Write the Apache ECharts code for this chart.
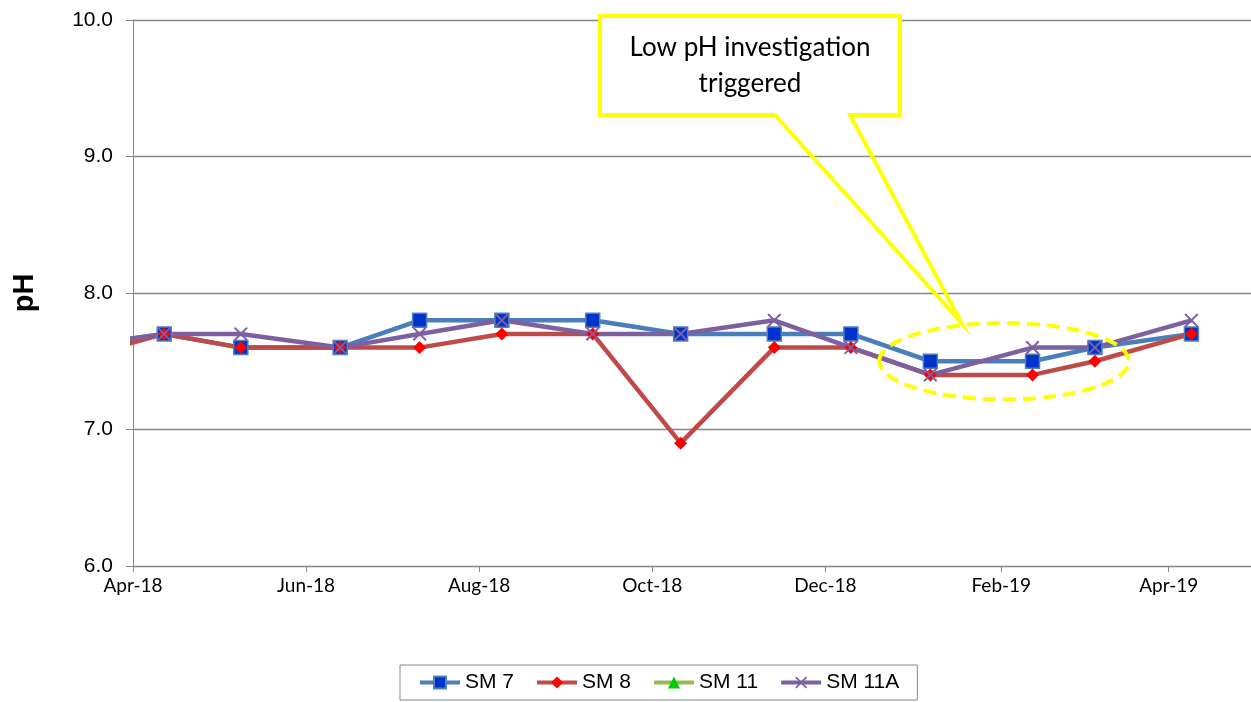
<!DOCTYPE html>
<html>
<head>
<meta charset="utf-8">
<script src="https://cdn.jsdelivr.net/npm/echarts@6/dist/echarts.min.js"></script>
<style>
html, body { margin: 0; padding: 0; background: #fff; }
#chart { width: 1251px; height: 702px; }
</style>
</head>
<body>
<div id="chart"></div>
<script>
// sample dates (first one falls before the axis start and gets clipped)
var sampleDates = ['2018-03-08', '2018-04-12', '2018-05-09', '2018-06-13', '2018-07-11',
    '2018-08-09', '2018-09-10', '2018-10-11', '2018-11-13', '2018-12-10',
    '2019-01-07', '2019-02-12', '2019-03-06', '2019-04-09'];
var sm7 = [7.6, 7.7, 7.6, 7.6, 7.8, 7.8, 7.8, 7.7, 7.7, 7.7, 7.5, 7.5, 7.6, 7.7];
var sm8 = [7.5, 7.7, 7.6, 7.6, 7.6, 7.7, 7.7, 6.9, 7.6, 7.6, 7.4, 7.4, 7.5, 7.7];
var sm11 = [];
var sm11a = [7.6, 7.7, 7.7, 7.6, 7.7, 7.8, 7.7, 7.7, 7.8, 7.6, 7.4, 7.6, 7.6, 7.8];

var tickDates = ['2018-04-01', '2018-06-01', '2018-08-01', '2018-10-01',
    '2018-12-01', '2019-02-01', '2019-04-01'];
var monthNames = ['Jan', 'Feb', 'Mar', 'Apr', 'May', 'Jun', 'Jul', 'Aug', 'Sep', 'Oct', 'Nov', 'Dec'];
var axisStart = '2018-04-01';
var axisEnd = '2019-04-30';

var DAY = 86400000;
function toTime(s) {
    var p = s.split('-');
    return Date.UTC(+p[0], +p[1] - 1, +p[2]);
}
// x runs in days counted from the axis start
function toDay(s) {
    return Math.round((toTime(s) - toTime(axisStart)) / DAY);
}
function pairs(vals) {
    return vals.map(function (v, i) { return [toDay(sampleDates[i]), v]; });
}

var xMark = 'path://M0,1L1,0L5,4L9,0L10,1L6,5L10,9L9,10L5,6L1,10L0,9L4,5Z';

function makeSeries(name, vals, lineColor, symbol, size, fill, border) {
    return {
        name: name,
        type: 'line',
        data: pairs(vals),
        symbol: symbol,
        symbolSize: size,
        showAllSymbol: true,
        clip: true,
        lineStyle: { color: lineColor, width: 4.5 },
        itemStyle: { color: fill, borderColor: border || fill, borderWidth: border ? 1.5 : 0 },
        emphasis: { disabled: true }
    };
}

var chartDom = document.getElementById('chart');
var myChart = echarts.init(chartDom);
var axisGrey = '#868686';
var tickDays = tickDates.map(toDay);

var option = {
    animation: false,
    grid: { left: 133, right: 0, top: 20, bottom: 136 },
    legend: {
        left: 400,
        top: 665,
        orient: 'horizontal',
        borderColor: '#888',
        borderWidth: 1,
        padding: [7, 18, 7, 18],
        itemGap: 21,
        itemWidth: 40,
        itemHeight: 15,
        lineStyle: { width: 4 },
        textStyle: { fontFamily: 'Liberation Sans', fontSize: 21, color: '#000' },
        data: ['SM 7', 'SM 8', 'SM 11', 'SM 11A']
    },
    xAxis: {
        type: 'value',
        min: 0,
        max: toDay(axisEnd),
        axisLine: { show: true, onZero: false, lineStyle: { color: axisGrey, width: 1 } },
        axisTick: {
            show: true, length: 6, lineStyle: { color: axisGrey },
            customValues: tickDays
        },
        splitLine: { show: false },
        axisLabel: {
            customValues: tickDays,
            margin: 10,
            fontFamily: 'Lato',
            fontSize: 19,
            color: '#000',
            formatter: function (v) {
                var d = new Date(toTime(axisStart) + v * DAY);
                return monthNames[d.getUTCMonth()] + '-' + String(d.getUTCFullYear()).slice(2);
            }
        }
    },
    yAxis: {
        type: 'value',
        min: 6,
        max: 10,
        interval: 1,
        name: 'pH',
        nameLocation: 'middle',
        nameGap: 94,
        nameTextStyle: { fontFamily: 'Liberation Sans', fontSize: 29, fontWeight: 'bold', color: '#000' },
        axisLine: { show: true, lineStyle: { color: axisGrey, width: 1 } },
        axisTick: { show: true, inside: false, length: 7, lineStyle: { color: axisGrey } },
        splitLine: { show: true, lineStyle: { color: axisGrey, width: 1.3 } },
        axisLabel: {
            margin: 20,
            fontFamily: 'Liberation Sans',
            fontSize: 21,
            color: '#000',
            formatter: function (v) { return v.toFixed(1); }
        }
    },
    series: [
        makeSeries('SM 7', sm7, '#4A7EBB', 'rect', 14, '#0033CC', '#4F81BD'),
        makeSeries('SM 8', sm8, '#BE4B48', 'diamond', 13, '#FF0000', null),
        makeSeries('SM 11', sm11, '#98B954', 'triangle', 13, '#00CC00', null),
        makeSeries('SM 11A', sm11a, '#7D60A0', xMark, 14, '#7D60A0', null)
    ]
};
option && myChart.setOption(option);

// annotation: dashed ellipse around the low readings and a callout box pointing at it
var c = myChart.convertToPixel({ gridIndex: 0 }, [toDay('2019-02-02'), 7.5]);
var l = myChart.convertToPixel({ gridIndex: 0 }, [toDay('2018-12-20'), 7.78]);
var tip = myChart.convertToPixel({ gridIndex: 0 }, [toDay('2019-01-18'), 7.78]);
var yellow = '#FFFF00';

myChart.setOption({
    graphic: [
        {
            type: 'ellipse',
            shape: { cx: c[0], cy: c[1], rx: c[0] - l[0], ry: c[1] - l[1] },
            style: { fill: null, stroke: yellow, lineWidth: 4, lineDash: [13, 7] },
            z: 100
        },
        {
            type: 'rect',
            shape: { x: 600, y: 16, width: 300, height: 99 },
            style: { fill: '#fff' },
            z: 100
        },
        {
            type: 'polyline',
            shape: { points: [[775, 115], [600, 115], [600, 16], [900, 16], [900, 115], [850, 115], [tip[0], tip[1]], [775, 115]] },
            style: { fill: null, stroke: yellow, lineWidth: 4, lineJoin: 'miter' },
            z: 101
        },
        {
            type: 'text',
            x: 750,
            y: 66,
            style: {
                text: 'Low pH investigation\ntriggered',
                fontFamily: 'Lato',
                fontSize: 26,
                lineHeight: 36,
                fill: '#000',
                align: 'center',
                verticalAlign: 'middle'
            },
            z: 102
        }
    ]
});
</script>
</body>
</html>
